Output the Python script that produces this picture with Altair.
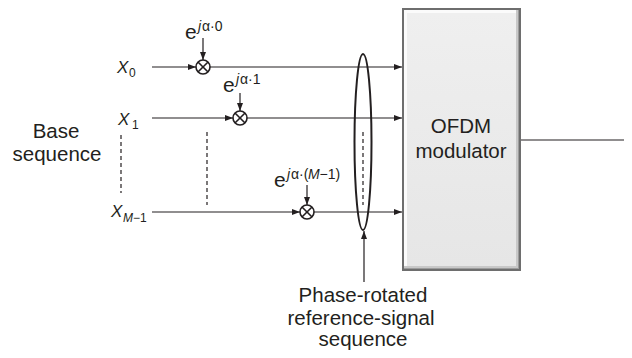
import altair as alt
import pandas as pd

# ---- diagram geometry (reference pixel coordinates) ----
rows_y = [67, 118, 212]            # y of the three signal rows
mult_x = [203, 240, 307]           # x of the multipliers
phase_top = [38, 93, 185]          # top of the phase arrows
line_start = 152
circle_r = 7
box = dict(left=402, right=521, top=8, bottom=271)
out_y = 140
ell = dict(cx=363, cy=142, rx=8.5, ry=88)
up_arrow = dict(x=364, y_from=282, y_to=231)
dash_x = [121, 207, 363]
dash_y1 = [135, 132, 132]
dash_y2 = [193, 205, 205]

INK = "#231f20"
FONT = "Liberation Sans"

XS = alt.Scale(domain=[8, 624])
YS = alt.Scale(domain=[8, 350], reverse=True)


def X(f):
    return alt.X(f, type="quantitative", scale=XS, axis=None)


def Y(f):
    return alt.Y(f, type="quantitative", scale=YS, axis=None)


# ---- line segments ----
seg = []
for y, mx in zip(rows_y, mult_x):
    seg.append((line_start, y, mx - circle_r, y))
    seg.append((mx + circle_r, y, box["left"], y))
for mx, y, t in zip(mult_x, rows_y, phase_top):
    seg.append((mx, t, mx, y - circle_r))
seg.append((up_arrow["x"], up_arrow["y_from"], up_arrow["x"], up_arrow["y_to"]))
seg.append((box["right"], out_y, 640, out_y))
seg_df = pd.DataFrame(seg, columns=["x", "y", "x2", "y2"])

dash_df = pd.DataFrame({"x": dash_x, "y": dash_y1, "x2": dash_x, "y2": dash_y2})

# ---- arrow heads (tip at point) ----
heads = []
for y, mx in zip(rows_y, mult_x):
    heads.append((mx - circle_r, y, 0))
    heads.append((box["left"], y, 0))
    heads.append((mx, y - circle_r, 90))
heads.append((up_arrow["x"], up_arrow["y_to"], 270))
heads_df = pd.DataFrame(heads, columns=["x", "y", "angle"])

mult_df = pd.DataFrame({"x": mult_x, "y": rows_y})

# ---- box ----
box_layers = pd.DataFrame({
    "x": [box["left"], box["left"] + 2, box["left"] + 2, box["left"] + 2],
    "x2": [box["right"], box["right"] - 2, box["right"] - 3, box["right"] - 5],
    "y": [box["top"], box["top"] + 2, box["top"] + 2, box["top"] + 2],
    "y2": [box["bottom"], box["bottom"] - 2, box["bottom"] - 3, box["bottom"] - 5],
    "c": ["#6e6e6e", "#9c9c9c", "#c8c8c8", "#fbfbfb"],
})
inner = pd.DataFrame({"x": [box["left"] + 5], "x2": [box["right"] - 5],
                      "y": [box["top"] + 5], "y2": [box["bottom"] - 5]})

# ---- texts ----
normal_txt = [
    (56, 138, "Base", 20.5, "center"),
    (57, 161, "sequence", 20.5, "center"),
    (461, 133, "OFDM", 20.5, "center"),
    (461, 158, "modulator", 20.5, "center"),
    (363, 302, "Phase-rotated", 20.5, "center"),
    (361, 325, "reference-signal", 20.5, "center"),
    (363, 346, "sequence", 20.5, "center"),
    (129, 77, "0", 12, "left"),
    (132, 129, "1", 12, "left"),
    (133, 222, "\u22121", 12, "left"),
]
e_left = [185, 223, 274]
e_base = [39, 92, 187]
sup_rest = ["\u03b1\u00b70", "\u03b1\u00b71", "\u03b1\u00b7("]
for ex, eb, rest in zip(e_left, e_base, sup_rest):
    normal_txt.append((ex, eb, "e", 21, "left"))
    normal_txt.append((ex + 17, eb - 8, rest, 14, "left"))
normal_txt.append((e_left[2] + 17 + 17 + 11.5, e_base[2] - 8, "\u22121)", 14, "left"))

italic_txt = [
    (117, 73, "X", 17, "left"),
    (118, 125, "X", 17, "left"),
    (111, 217, "X", 17, "left"),
    (123, 222, "M", 12, "left"),
]
for ex, eb in zip(e_left, e_base):
    italic_txt.append((ex + 13, eb - 8, "j", 14, "left"))
italic_txt.append((e_left[2] + 17 + 17, e_base[2] - 8, "M", 14, "left"))

ntxt = pd.DataFrame(normal_txt, columns=["x", "y", "t", "s", "a"])
itxt = pd.DataFrame(italic_txt, columns=["x", "y", "t", "s", "a"])

# ---- layers ----
box_rects = alt.Chart(box_layers).mark_rect().encode(
    x=X("x"), x2="x2", y=Y("y"), y2="y2", color=alt.Color("c:N", scale=None))
box_inner = alt.Chart(inner).mark_rect(color={
    "gradient": "linear", "x1": 0, "x2": 0, "y1": 0, "y2": 1,
    "stops": [{"offset": 0, "color": "#efefef"}, {"offset": 1, "color": "#e6e6e6"}]}
).encode(x=X("x"), x2="x2", y=Y("y"), y2="y2")

lines = alt.Chart(seg_df).mark_rule(color=INK, strokeWidth=1.2).encode(
    x=X("x"), y=Y("y"), x2="x2", y2="y2")
dashes = alt.Chart(dash_df).mark_rule(color=INK, strokeWidth=1.2, strokeDash=[4, 3]).encode(
    x=X("x"), y=Y("y"), x2="x2", y2="y2")

arrow_path = "M 0 0 L -2 -0.75 L -2 0.75 Z"
heads_l = alt.Chart(heads_df).mark_point(
    shape=arrow_path, filled=True, color=INK, size=64, opacity=1, strokeWidth=0).encode(
    x=X("x"), y=Y("y"), angle=alt.Angle("angle:Q", scale=None))

circles = alt.Chart(mult_df).mark_point(
    shape="circle", filled=False, fill="white", fillOpacity=1, stroke=INK, strokeWidth=1.6,
    size=(2 * circle_r) ** 2, opacity=1).encode(x=X("x"), y=Y("y"))
crosses = alt.Chart(mult_df).mark_point(
    shape="M -0.72 -0.72 L 0.72 0.72 M -0.72 0.72 L 0.72 -0.72", filled=False,
    stroke=INK, strokeWidth=1.6, size=(2 * circle_r) ** 2, opacity=1).encode(x=X("x"), y=Y("y"))

ratio = ell["rx"] / ell["ry"]
ell_path = f"M 0 -1 A {ratio:.4f} 1 0 0 1 0 1 A {ratio:.4f} 1 0 0 1 0 -1 Z"
ellipse = alt.Chart(pd.DataFrame({"x": [ell["cx"]], "y": [ell["cy"]]})).mark_point(
    shape=ell_path, filled=False, stroke=INK, strokeWidth=2, size=(2 * ell["ry"]) ** 2,
    opacity=1).encode(x=X("x"), y=Y("y"))

def text_layer(df, style):
    layers = []
    for a in ["left", "center"]:
        sub = df[df["a"] == a]
        if len(sub) == 0:
            continue
        layers.append(alt.Chart(sub).mark_text(
            align=a, baseline="alphabetic", font=FONT, fontStyle=style, color=INK).encode(
            x=X("x"), y=Y("y"), text="t:N", size=alt.Size("s:Q", scale=None)))
    return layers

chart = alt.layer(
    box_rects, box_inner, lines, dashes, heads_l, circles, crosses, ellipse,
    *text_layer(ntxt, "normal"), *text_layer(itxt, "italic"),
).properties(width=616, height=342, padding=0, autosize="none",
             background="white").configure_view(stroke=None)

chart.save("out.html", embed_options={"renderer": "svg", "actions": False})
